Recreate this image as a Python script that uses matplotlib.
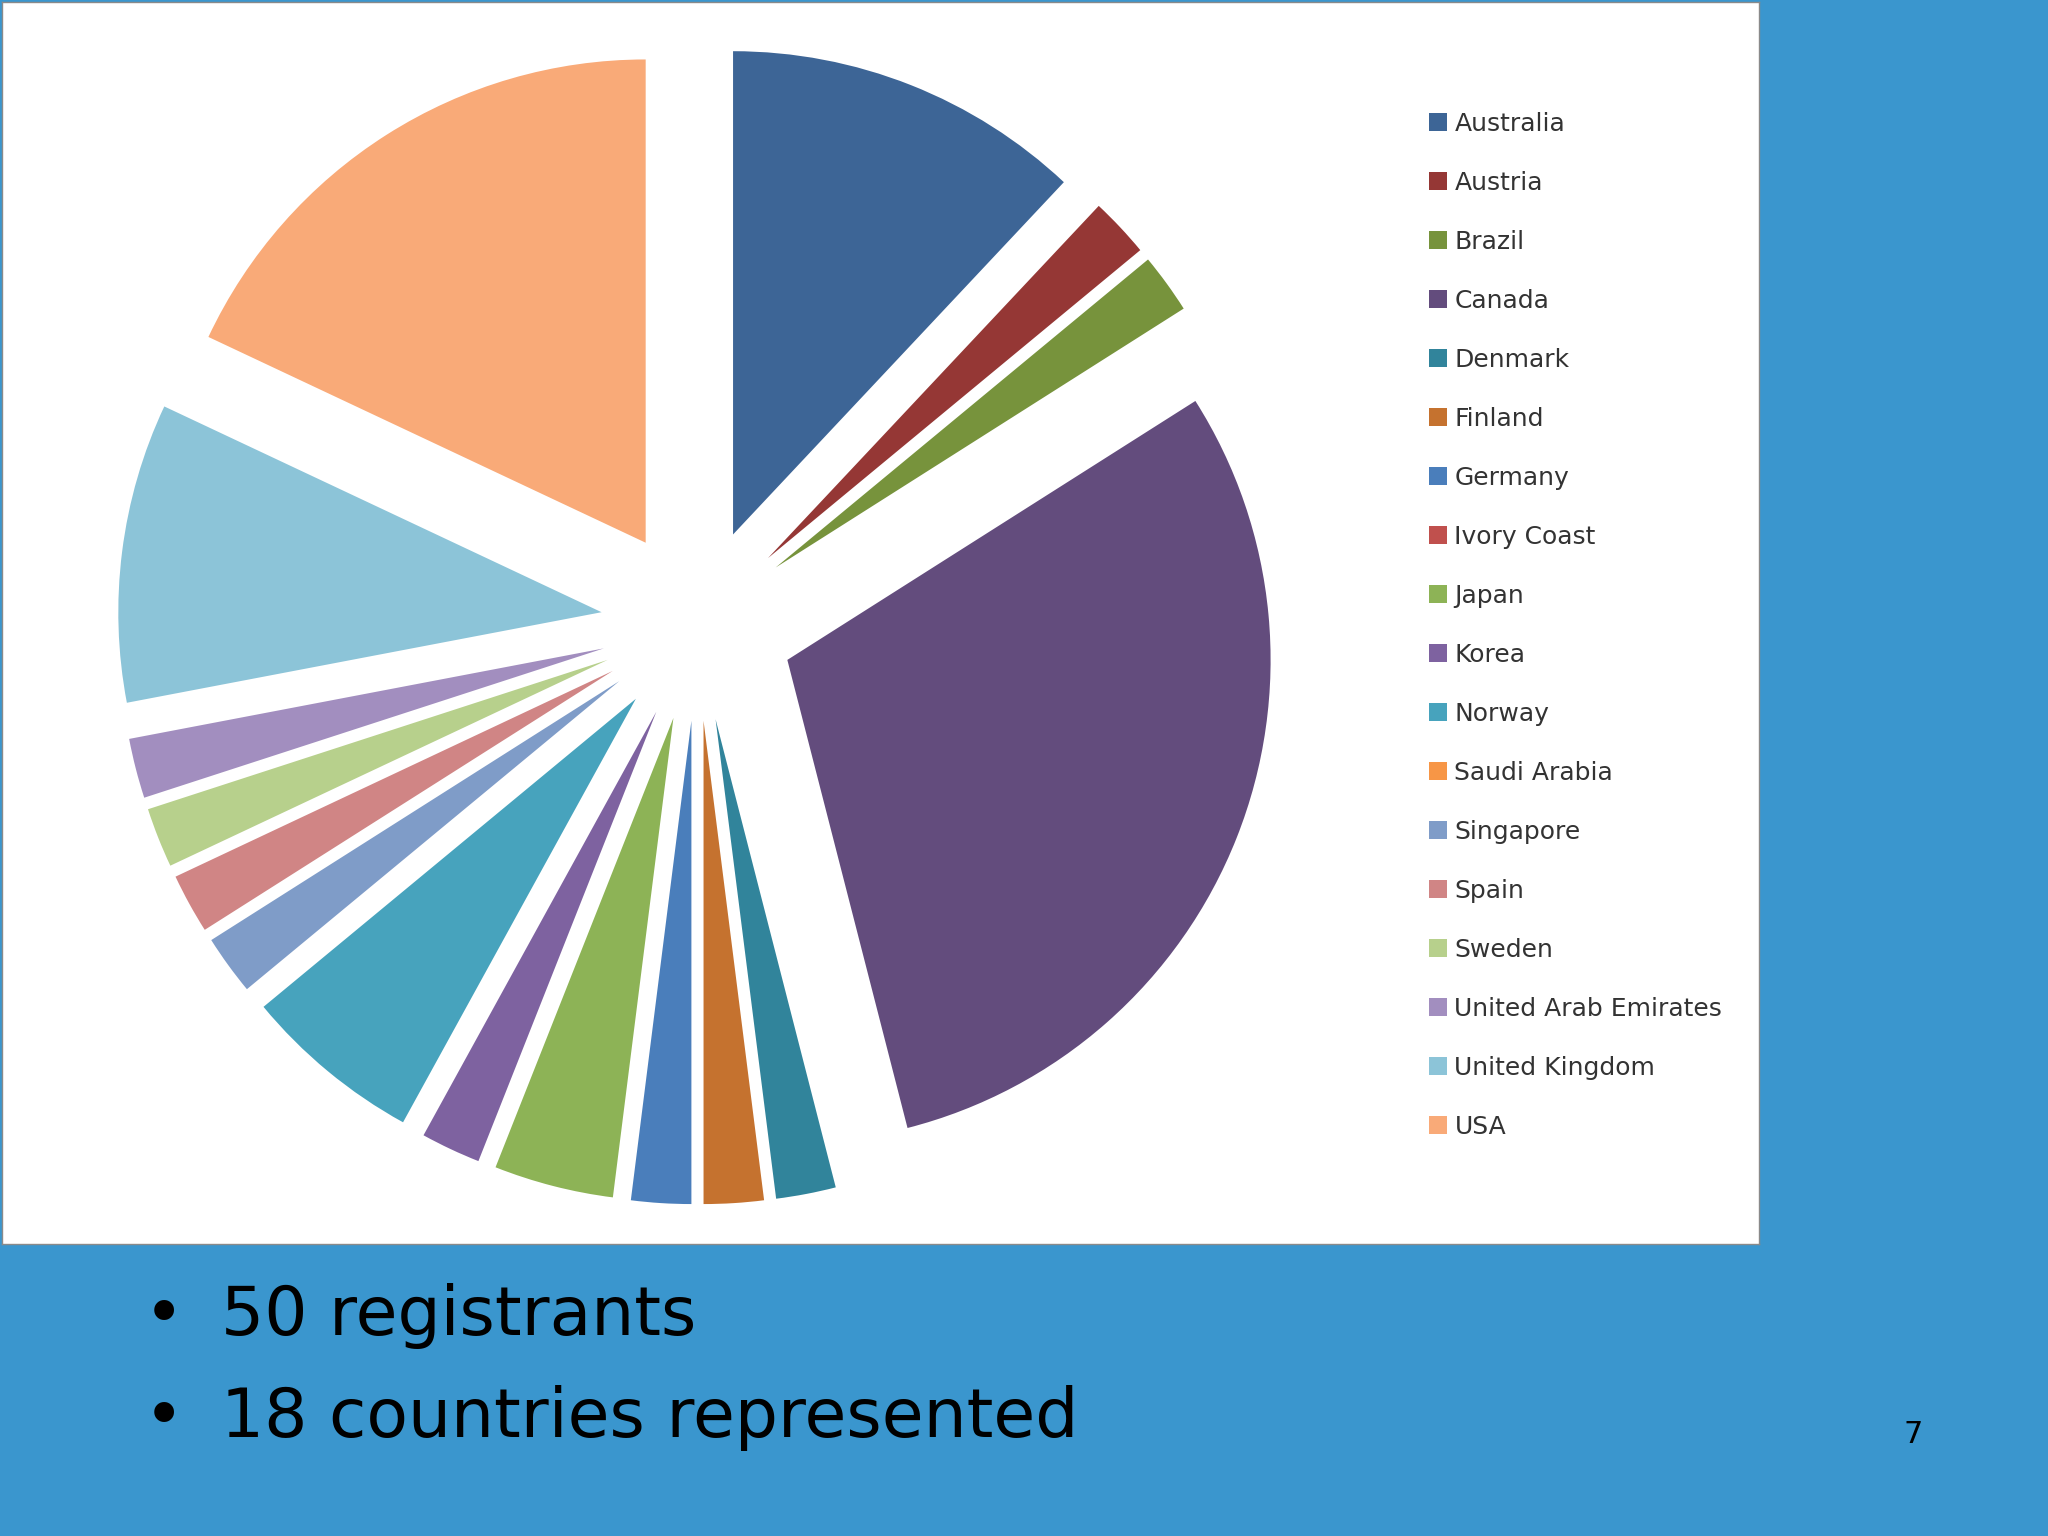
import matplotlib
matplotlib.use("Agg")
import matplotlib.pyplot as plt
from matplotlib.patches import Patch

countries = ["Australia","Austria","Brazil","Canada","Denmark","Finland","Germany","Ivory Coast",
             "Japan","Korea","Norway","Saudi Arabia","Singapore","Spain","Sweden",
             "United Arab Emirates","United Kingdom","USA"]
counts = [6,1,1,15,1,1,1,0,2,1,3,0,1,1,1,1,5,9]
colors = ["#3D6596","#953735","#77933C","#634C7D","#31849B","#C5722F","#4A7EBB","#C0504D",
          "#8DB356","#7E62A0","#47A3BD","#F79646","#7F9CC8","#D08585","#B7D08C","#A28EBF",
          "#8CC4D8","#F9AA78"]
bullets = ["50 registrants", "18 countries represented"]
page = "7"

fig = plt.figure(figsize=(20.48, 15.36), dpi=100)
fig.patch.set_facecolor("#3A96CE")

bg = fig.add_axes([0.001, 0.19, 0.858, 0.809])
bg.set_facecolor("white"); bg.set_xticks([]); bg.set_yticks([])
for s in bg.spines.values():
    s.set_color("#8a8a8a"); s.set_linewidth(1)

cx, cy, R = 534/1568, 1 - 478/1176, 444
w, h = 2*R/1568, 2*R/1176
ax = fig.add_axes([cx - w/2, cy - h/2, w, h])
vals = [c if c > 0 else 1e-9 for c in counts]
ax.pie(vals, colors=colors, startangle=90, counterclock=False, radius=1.0,
       explode=[0.2]*len(vals), wedgeprops=dict(linewidth=0))
ax.set_xlim(-1.2, 1.2); ax.set_ylim(-1.2, 1.2)
ax.set_aspect("equal")
ax.axis("off")

handles = [Patch(facecolor=c, label=n) for n, c in zip(countries, colors)]
fig.legend(handles=handles, loc="upper left", bbox_to_anchor=(0.687, 0.942),
           frameon=False, fontsize=18, handlelength=0.7, handleheight=0.7,
           handletextpad=0.3, labelspacing=1.4, labelcolor="#333333")

for i, t in enumerate(bullets):
    y = 0.143 - i * 0.066
    fig.text(0.07, y, "•", fontsize=49, va="center", color="black")
    fig.text(0.108, y, t, fontsize=49, va="center", color="black")
fig.text(0.934, 0.066, page, fontsize=22, va="center", ha="center", color="black")

fig.savefig("out.png", dpi=100, facecolor=fig.get_facecolor())
